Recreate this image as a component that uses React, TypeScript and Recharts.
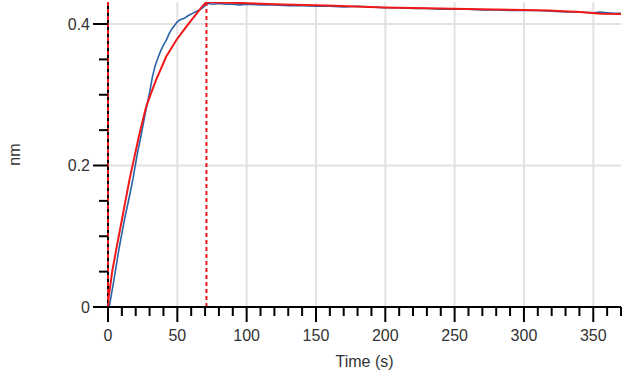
import React from 'react';
import { LineChart, Line, XAxis, YAxis, ReferenceLine } from 'recharts';

// ---- data ----
const blueTime = [0, 1, 4, 8, 12, 15, 18, 21, 24, 27, 30, 32, 34, 36, 38, 40, 42, 44, 46, 48, 50, 52, 55, 58, 61, 64, 67, 69, 70.5, 72, 76, 80, 85, 90, 95, 100, 110, 120, 130, 140, 150, 160, 170, 180, 190, 200, 210, 220, 230, 240, 250, 260, 270, 280, 290, 300, 310, 320, 330, 340, 350, 355, 360, 365, 370];
const blueValues = [0, 0.001, 0.035, 0.083, 0.125, 0.152, 0.181, 0.215, 0.244, 0.275, 0.303, 0.325, 0.341, 0.352, 0.362, 0.37, 0.377, 0.386, 0.393, 0.398, 0.403, 0.406, 0.408, 0.412, 0.415, 0.418, 0.421, 0.424, 0.427, 0.429, 0.428, 0.429, 0.428, 0.428, 0.427, 0.428, 0.427, 0.427, 0.426, 0.426, 0.425, 0.425, 0.424, 0.425, 0.424, 0.423, 0.423, 0.422, 0.422, 0.421, 0.421, 0.421, 0.42, 0.42, 0.419, 0.419, 0.419, 0.418, 0.417, 0.417, 0.416, 0.417, 0.416, 0.415, 0.415];

const redTime = [0, 0.6, 3, 6.3, 10, 15.5, 19, 22.7, 27.5, 31, 34.7, 38, 42, 45.5, 49.2, 53, 56.4, 60, 63.6, 67, 70.8, 80, 90, 100, 126, 150, 163, 199, 230, 268, 300, 318, 340, 356, 370];
const redValues = [0, 0.015, 0.05, 0.085, 0.123, 0.18, 0.2115, 0.245, 0.283, 0.302, 0.321, 0.336, 0.354, 0.365, 0.377, 0.387, 0.396, 0.405, 0.414, 0.4226, 0.431, 0.4305, 0.43, 0.4295, 0.4276, 0.4265, 0.4259, 0.4235, 0.4222, 0.421, 0.4198, 0.419, 0.417, 0.4145, 0.414];

const xTicks = [0, 10, 20, 30, 40, 50, 60, 70, 80, 90, 100, 110, 120, 130, 140, 150, 160, 170, 180, 190, 200, 210, 220, 230, 240, 250, 260, 270, 280, 290, 300, 310, 320, 330, 340, 350, 360, 370];
const xMajorTicks = [0, 50, 100, 150, 200, 250, 300, 350];
const yTicks = [0, 0.05, 0.1, 0.15, 0.2, 0.25, 0.3, 0.35, 0.4];
const yMajorTicks = [0, 0.2, 0.4];
const xGrid = [50, 100, 150, 200, 250, 300, 350];
const yGrid = [0.2, 0.4];
const phaseMarkers = [0, 71];
const yAxisAt = 0;

const blueData = blueTime.map((t, i) => ({ t, v: blueValues[i] }));
const redData = redTime.map((t, i) => ({ t, v: redValues[i] }));

const FONT = '"Liberation Sans", Arial, sans-serif';
const TEXT = '#333';

const XTick = (props: any) => {
  const { x, y, payload } = props;
  const major = xMajorTicks.includes(payload.value);
  return (
    <g>
      <line x1={x} x2={x} y1={y} y2={y + (major ? 15 : 9)} stroke="#000" strokeWidth={2} />
      {major && (
        <text x={x} y={y + 34} textAnchor="middle" fill={TEXT} fontSize={16} fontFamily={FONT}>
          {payload.value}
        </text>
      )}
    </g>
  );
};

const YTick = (props: any) => {
  const { x, y, payload } = props;
  const v = payload.value;
  const major = yMajorTicks.some((m) => Math.abs(m - v) < 1e-9);
  return (
    <g>
      <line x1={x - (major ? 15 : 9)} x2={x} y1={y} y2={y} stroke="#000" strokeWidth={2} />
      {major && (
        <text x={x - 18} y={y} dy="0.355em" textAnchor="end" fill={TEXT} fontSize={16} fontFamily={FONT}>
          {String(v)}
        </text>
      )}
    </g>
  );
};

export default function App() {
  return (
    <div style={{ position: 'absolute', left: 0, top: 0, width: 633, height: 377, background: '#fff' }}>
      <LineChart width={633} height={377} margin={{ top: 2, right: 12, bottom: 0, left: 8 }} style={{ fontFamily: FONT }}>
        <XAxis
          type="number"
          dataKey="t"
          domain={[0, 370]}
          ticks={xTicks}
          interval={0}
          allowDataOverflow
          tickSize={0}
          tickMargin={0}
          tickLine={false}
          tick={<XTick />}
          height={70}
          axisLine={{ stroke: '#000', strokeWidth: 2 }}
          label={{ value: 'Time (s)', position: 'insideBottom', offset: 10, fill: TEXT, fontSize: 16 }}
        />
        <YAxis
          type="number"
          domain={[0, 0.4311]}
          ticks={yTicks}
          interval={0}
          allowDataOverflow
          tickSize={0}
          tickMargin={0}
          tickLine={false}
          tick={<YTick />}
          width={100}
          axisLine={false}
          label={{ value: 'nm', angle: -90, position: 'insideLeft', offset: 6, fill: TEXT, fontSize: 16, style: { textAnchor: 'middle' } }}
        />
        {xGrid.map((g) => (
          <ReferenceLine key={'gx' + g} x={g} stroke="#e2e2e2" strokeWidth={2} />
        ))}
        {yGrid.map((g) => (
          <ReferenceLine key={'gy' + g} y={g} stroke="#e2e2e2" strokeWidth={2} />
        ))}
        <ReferenceLine x={yAxisAt} stroke="#000" strokeWidth={2} />
        <Line data={blueData} dataKey="v" type="linear" stroke="#2862a8" strokeWidth={1.6} dot={false} isAnimationActive={false} />
        <Line data={redData} dataKey="v" type="linear" stroke="#f01818" strokeWidth={2} dot={false} isAnimationActive={false} />
        {phaseMarkers.map((m) => (
          <ReferenceLine key={'pm' + m} x={m} stroke="#f01818" strokeWidth={2} strokeDasharray="4 3" />
        ))}
      </LineChart>
    </div>
  );
}
